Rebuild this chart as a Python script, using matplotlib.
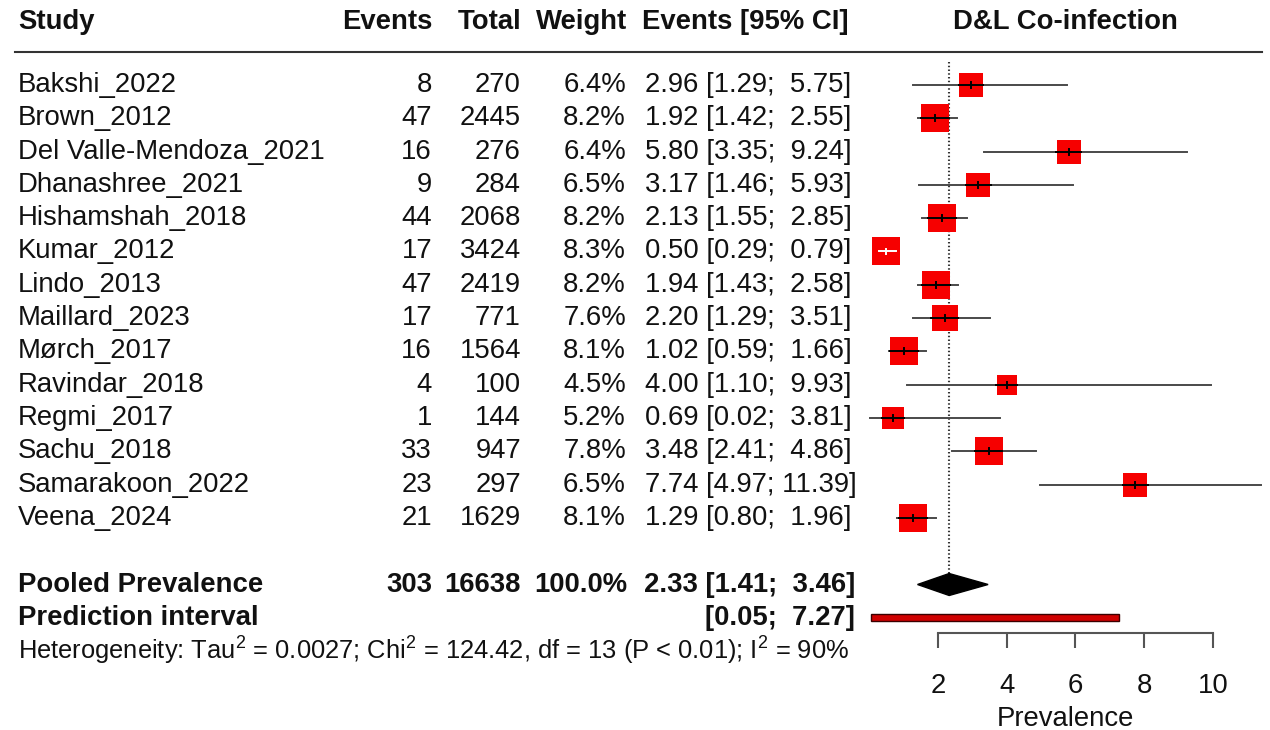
import matplotlib
matplotlib.use("Agg")
import matplotlib.pyplot as plt
from matplotlib.lines import Line2D
from matplotlib.patches import Polygon, Rectangle

plt.rcParams['font.family'] = ['Liberation Sans', 'DejaVu Sans']
plt.rcParams['mathtext.fontset'] = 'custom'
plt.rcParams['mathtext.rm'] = 'Liberation Sans'
plt.rcParams['mathtext.it'] = 'Liberation Sans:italic'
plt.rcParams['mathtext.bf'] = 'Liberation Sans:bold'

# study level data
studies = ['Bakshi_2022', 'Brown_2012', 'Del Valle-Mendoza_2021', 'Dhanashree_2021',
           'Hishamshah_2018', 'Kumar_2012', 'Lindo_2013', 'Maillard_2023', 'Mørch_2017',
           'Ravindar_2018', 'Regmi_2017', 'Sachu_2018', 'Samarakoon_2022', 'Veena_2024']
events = [8, 47, 16, 9, 44, 17, 47, 17, 16, 4, 1, 33, 23, 21]
totals = [270, 2445, 276, 284, 2068, 3424, 2419, 771, 1564, 100, 144, 947, 297, 1629]
weights = [6.4, 8.2, 6.4, 6.5, 8.2, 8.3, 8.2, 7.6, 8.1, 4.5, 5.2, 7.8, 6.5, 8.1]
est = [2.96, 1.92, 5.80, 3.17, 2.13, 0.50, 1.94, 2.20, 1.02, 4.00, 0.69, 3.48, 7.74, 1.29]
lower = [1.29, 1.42, 3.35, 1.46, 1.55, 0.29, 1.43, 1.29, 0.59, 1.10, 0.02, 2.41, 4.97, 0.80]
upper = [5.75, 2.55, 9.24, 5.93, 2.85, 0.79, 2.58, 3.51, 1.66, 9.93, 3.81, 4.86, 11.39, 1.96]

# pooled results
pooled_events = 303
pooled_total = 16638
pooled_weight = 100.0
pooled_est, pooled_lo, pooled_hi = 2.33, 1.41, 3.46
pred_lo, pred_hi = 0.05, 7.27
het_text = (r'Heterogeneity: Tau$^2$ = 0.0027; Chi$^2$ = 124.42, df = 13 (P < 0.01); '
            r'I$^2$ = 90%')
xticks = [2, 4, 6, 8, 10]

W, H = 1270, 730
row0, row_h = 85, 33.3
y_top = -row0 / row_h
y_bot = (H - row0) / row_h
n = len(studies)
pooled_row = n + 1
pred_row = n + 2
het_row = n + 3

fig = plt.figure(figsize=(W / 100, H / 100), dpi=100)

# text columns, x in pixels
tx = fig.add_axes([0, 0, 1, 1])
tx.set_xlim(0, W)
tx.set_ylim(y_bot, y_top)
tx.axis('off')

fs = 19.8
ink = '#111111'
hdr_y = -1.9
tx.text(18, hdr_y, 'Study', fontsize=fs, fontweight='bold', ha='left', va='center', color=ink)
tx.text(432, hdr_y, 'Events', fontsize=fs, fontweight='bold', ha='right', va='center', color=ink)
tx.text(521, hdr_y, 'Total', fontsize=fs, fontweight='bold', ha='right', va='center', color=ink)
tx.text(627, hdr_y, 'Weight', fontsize=fs, fontweight='bold', ha='right', va='center', color=ink)
tx.text(849, hdr_y, 'Events [95% CI]', fontsize=fs, fontweight='bold', ha='right', va='center', color=ink)
tx.text(1065, hdr_y, 'D&L Co-infection', fontsize=fs, fontweight='bold', ha='center', va='center', color=ink)
fig.add_artist(Line2D([15 / W, 1262 / W], [1 - 52 / H, 1 - 52 / H],
                      transform=fig.transFigure, color='#333333', lw=1.5))

for i in range(n):
    tx.text(18, i, studies[i], fontsize=fs, ha='left', va='center', color=ink)
    tx.text(432, i, str(events[i]), fontsize=fs, ha='right', va='center', color=ink)
    tx.text(521, i, str(totals[i]), fontsize=fs, ha='right', va='center', color=ink)
    tx.text(626, i, f'{weights[i]:.1f}%', fontsize=fs, ha='right', va='center', color=ink)
    tx.text(645, i, f'{est[i]:.2f} [{lower[i]:.2f}; {upper[i]:5.2f}]',
            fontsize=fs, ha='left', va='center', color=ink)

tx.text(18, pooled_row, 'Pooled Prevalence', fontsize=fs, fontweight='bold', ha='left', va='center', color=ink)
tx.text(432, pooled_row, str(pooled_events), fontsize=fs, fontweight='bold', ha='right', va='center', color=ink)
tx.text(521, pooled_row, str(pooled_total), fontsize=fs, fontweight='bold', ha='right', va='center', color=ink)
tx.text(627, pooled_row, f'{pooled_weight:.1f}%', fontsize=fs, fontweight='bold', ha='right', va='center', color=ink)
tx.text(855, pooled_row, f'{pooled_est:.2f} [{pooled_lo:.2f}; {pooled_hi:5.2f}]',
        fontsize=fs, fontweight='bold', ha='right', va='center', color=ink)
tx.text(18, pred_row, 'Prediction interval', fontsize=fs, fontweight='bold', ha='left', va='center', color=ink)
tx.text(855, pred_row, f'[{pred_lo:.2f}; {pred_hi:5.2f}]',
        fontsize=fs, fontweight='bold', ha='right', va='center', color=ink)
tx.text(18, het_row, het_text, fontsize=18.35, ha='left', va='center', color=ink)

# forest panel
fa = fig.add_axes([869 / W, 0, (1261 - 869) / W, 1])
fa.set_xlim(0, max(upper))
fa.set_ylim(y_bot, y_top)
fa.patch.set_visible(False)
for s in ['top', 'left', 'right']:
    fa.spines[s].set_visible(False)
fa.spines['bottom'].set_position(('data', 16.46))
fa.spines['bottom'].set_bounds(xticks[0], xticks[-1])
fa.spines['bottom'].set_color('#555555')
fa.spines['bottom'].set_linewidth(1.5)
fa.set_yticks([])
fa.set_xticks(xticks)
fa.tick_params(axis='x', direction='out', length=10.8, width=1.5, color='#555555',
               labelsize=fs, labelcolor=ink, pad=18)
fa.set_xlabel('Prevalence', fontsize=fs, color=ink, labelpad=5)

px_per_unit = (1261 - 869) / max(upper)
red = '#f60000'

# reference line at pooled estimate
fa.plot([pooled_est, pooled_est], [-0.7, pooled_row - 0.33], color='#333333',
        lw=1.5, linestyle=(0, (0.7, 1.1)), clip_on=False, zorder=1)

for i in range(n):
    side_px = 28 * (weights[i] / 8.2) ** 0.5
    half = side_px / 2 / px_per_unit
    fa.plot([lower[i], upper[i]], [i, i], color='#4a4a4a', lw=1.4, clip_on=False, zorder=2)
    fa.scatter([est[i]], [i], marker='s', s=(side_px * 0.72) ** 2, color=red,
               linewidths=0, clip_on=False, zorder=3)
    inside = lower[i] >= est[i] - half and upper[i] <= est[i] + half
    c = 'white' if inside else 'black'
    fa.plot([max(lower[i], est[i] - half), min(upper[i], est[i] + half)], [i, i],
            color=c, lw=1.4, clip_on=False, zorder=4)
    fa.plot([est[i], est[i]], [i - 0.09, i + 0.09], color=c, lw=1.4, clip_on=False, zorder=4)

# pooled diamond
dh = 0.33
fa.add_patch(Polygon([(pooled_lo, pooled_row), (pooled_est, pooled_row - dh),
                      (pooled_hi, pooled_row), (pooled_est, pooled_row + dh)],
                     closed=True, facecolor='black', edgecolor='black', clip_on=False, zorder=3))

# prediction interval bar
fa.add_patch(Rectangle((pred_lo, pred_row - 0.1), pred_hi - pred_lo, 0.2,
                       facecolor='#d00000', edgecolor='#3a0000', lw=1.0, clip_on=False, zorder=3))

fig.savefig('out.png', dpi=100)
